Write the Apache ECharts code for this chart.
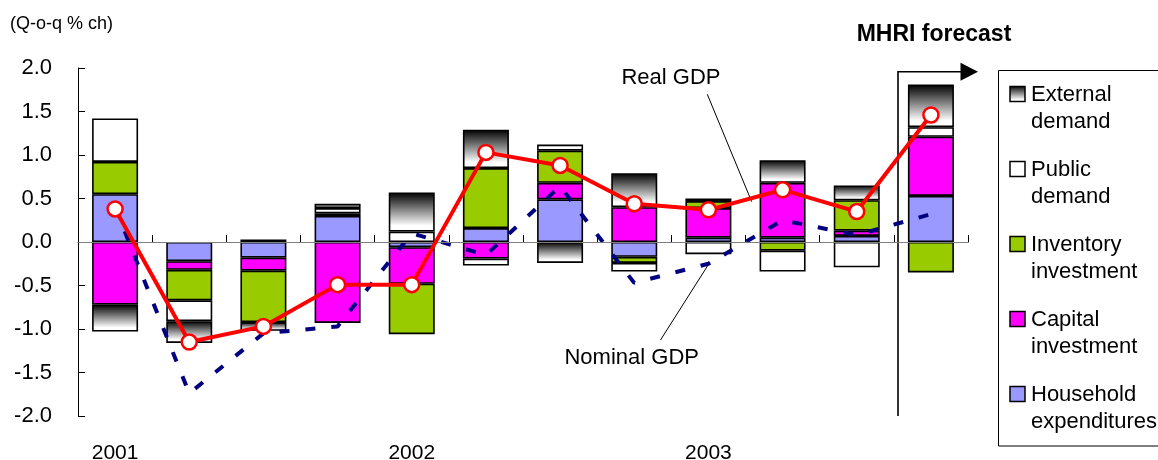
<!DOCTYPE html>
<html>
<head>
<meta charset="utf-8">
<script src="https://cdn.jsdelivr.net/npm/echarts@6/dist/echarts.min.js"></script>
<style>
  html, body { margin: 0; padding: 0; background: #ffffff; }
  #chart { width: 1158px; height: 460px; }
</style>
</head>
<body>
<div id="chart"></div>
<script>
// Quarterly contributions to real GDP growth (Q-o-q % ch), 2001 Q1 – 2003 Q4 (last quarter = forecast)
const quarters = ['2001 Q1', '2001 Q2', '2001 Q3', '2001 Q4',
                  '2002 Q1', '2002 Q2', '2002 Q3', '2002 Q4',
                  '2003 Q1', '2003 Q2', '2003 Q3', '2003 Q4'];

const household  = [0.55, -0.22, -0.18, 0.30, -0.06, 0.16, 0.49, -0.17, 0.05, 0.05, 0.07, 0.53];
const capital    = [-0.72, -0.10, -0.15, -0.93, -0.42, -0.19, 0.19, 0.40, 0.34, 0.63, 0.06, 0.68];
const inventory  = [0.37, -0.35, -0.59, 0.03, -0.58, 0.69, 0.37, -0.07, 0.08, -0.10, 0.35, -0.35];
const publicDem  = [0.50, -0.24, 0.03, 0.06, 0.12, -0.08, 0.07, -0.10, -0.14, -0.24, -0.29, 0.11];
const external   = [-0.31, -0.25, -0.10, 0.05, 0.45, 0.44, -0.24, 0.39, 0.03, 0.26, 0.17, 0.49];

const realGDP    = [0.38, -1.15, -0.97, -0.49, -0.49, 1.03, 0.88, 0.44, 0.37, 0.60, 0.35, 1.46];
const nominalGDP = [0.40, -1.74, -1.05, -0.97, 0.10, -0.15, 0.64, -0.47, -0.25, 0.25, 0.08, 0.32];

const yTicks = { min: -2, max: 2, interval: 0.5 };

const componentNames = ['Household expenditures', 'Capital investment', 'Inventory investment',
                        'Public demand', 'External demand'];

const FONT = '"Liberation Sans", Arial, Helvetica, sans-serif';

const extGradient = () => new echarts.graphic.LinearGradient(0, 0, 0, 1, [
  { offset: 0, color: '#000000' },
  { offset: 0.85, color: '#ffffff' },
  { offset: 1, color: '#ffffff' }
]);

const componentFills = ['#9999FF', '#FF00FF', '#99CC00', '#FFFFFF', extGradient()];
const componentData = [household, capital, inventory, publicDem, external];

const chart = echarts.init(document.getElementById('chart'), null, { renderer: 'canvas' });

const barSeries = componentNames.map((name, i) => {
  const s = {
    name: name,
    type: 'bar',
    stack: 'contrib',
    barWidth: 46,
    data: componentData[i],
    itemStyle: { color: componentFills[i], borderColor: '#000000', borderWidth: 1.6 },
    emphasis: { disabled: true },
    z: 2
  };
  if (i === 0) {
    s.markLine = {
      silent: true,
      symbol: 'none',
      label: { show: false },
      lineStyle: { color: '#808080', width: 1, type: 'solid' },
      data: [{ yAxis: 0 }]
    };
  }
  return s;
});

// Legend box drawn at the right side, listed from the top of the stack down
const legendItems = [];
const legendOrder = componentNames.map((n, i) => i).reverse();
legendItems.push({
  type: 'rect',
  shape: { x: 998.5, y: 70.5, width: 220, height: 375.5 },
  style: { fill: '#ffffff', stroke: '#000000', lineWidth: 1 },
  z: 1
});
legendOrder.forEach((idx, k) => {
  const top = 86.5 + k * 75;
  const name = componentNames[idx];
  const sp = name.indexOf(' ');
  legendItems.push({
    type: 'rect',
    shape: { x: 1010, y: top, width: 15, height: 15 },
    style: { fill: idx === 4 ? extGradient() : componentFills[idx], stroke: '#000000', lineWidth: 1.5 },
    z: 2
  });
  legendItems.push({
    type: 'text',
    x: 1031, y: top - 5,
    style: {
      text: name.slice(0, sp) + '\n' + name.slice(sp + 1),
      fill: '#000000',
      font: '22px ' + FONT,
      lineHeight: 27,
      textAlign: 'left', align: 'left',
      textVerticalAlign: 'top', verticalAlign: 'top'
    },
    z: 2
  });
});

const option = {
  animation: false,
  backgroundColor: '#ffffff',
  grid: { left: 78, right: 190, top: 68, bottom: 44, containLabel: false, outerBoundsMode: 'none' },
  xAxis: {
    type: 'category',
    data: quarters,
    boundaryGap: true,
    axisLine: { show: true, lineStyle: { color: '#000000', width: 1 } },
    axisTick: { show: true, inside: true, length: 7, interval: 0, lineStyle: { color: '#000000' } },
    axisLabel: {
      interval: 0,
      margin: 27,
      color: '#000000',
      fontSize: 21,
      fontFamily: FONT,
      formatter: v => (v.endsWith('Q1') ? v.slice(0, 4) : '')
    },
    splitLine: { show: false }
  },
  yAxis: {
    type: 'value',
    min: yTicks.min,
    max: yTicks.max,
    interval: yTicks.interval,
    axisLine: { show: true, lineStyle: { color: '#000000', width: 1 } },
    axisTick: { show: true, inside: true, length: 7, lineStyle: { color: '#000000' } },
    axisLabel: {
      margin: 26,
      color: '#000000',
      fontSize: 22,
      fontFamily: FONT,
      formatter: v => v.toFixed(1)
    },
    splitLine: { show: false }
  },
  series: barSeries.concat([
    {
      name: 'Nominal GDP',
      type: 'line',
      data: nominalGDP,
      showSymbol: false,
      symbol: 'none',
      lineStyle: { color: '#000080', width: 4, type: [10, 16], cap: 'butt' },
      emphasis: { disabled: true },
      z: 4
    },
    {
      name: 'Real GDP',
      type: 'line',
      data: realGDP,
      symbol: 'circle',
      symbolSize: 15,
      color: '#FF0000',
      lineStyle: { color: '#FF0000', width: 4 },
      itemStyle: { color: '#FFFFFF', borderColor: '#FF0000', borderWidth: 2.5 },
      emphasis: { disabled: true },
      z: 5
    }
  ]),
  graphic: legendItems.concat([
    {
      type: 'text', x: 10, y: 24.5,
      style: { text: '(Q-o-q % ch)', fill: '#000000', font: '18px ' + FONT,
               textAlign: 'left', align: 'left', textVerticalAlign: 'middle', verticalAlign: 'middle' }
    },
    {
      type: 'text', x: 934, y: 35,
      style: { text: 'MHRI forecast', fill: '#000000', font: 'bold 23px ' + FONT,
               textAlign: 'center', align: 'center', textVerticalAlign: 'middle', verticalAlign: 'middle' }
    },
    {
      type: 'polyline',
      shape: { points: [[898, 416], [898, 71.7], [962, 71.7]] },
      style: { stroke: '#000000', lineWidth: 1.6, fill: null },
      z: 3
    },
    {
      type: 'polygon',
      shape: { points: [[960.5, 62.7], [978, 71.7], [960.5, 80.7]] },
      style: { fill: '#000000' },
      z: 3
    },
    {
      type: 'text', x: 671, y: 78.2,
      style: { text: 'Real GDP', fill: '#000000', font: '22px ' + FONT,
               textAlign: 'center', align: 'center', textVerticalAlign: 'middle', verticalAlign: 'middle' }
    },
    {
      type: 'line',
      shape: { x1: 707.3, y1: 94.3, x2: 751.7, y2: 201.7 },
      style: { stroke: '#000000', lineWidth: 1 },
      z: 3
    },
    {
      type: 'text', x: 631.7, y: 358.2,
      style: { text: 'Nominal GDP', fill: '#000000', font: '22px ' + FONT,
               textAlign: 'center', align: 'center', textVerticalAlign: 'middle', verticalAlign: 'middle' }
    },
    {
      type: 'line',
      shape: { x1: 660.5, y1: 340, x2: 710, y2: 262 },
      style: { stroke: '#000000', lineWidth: 1 },
      z: 3
    }
  ])
};

chart.setOption(option);
</script>
</body>
</html>
